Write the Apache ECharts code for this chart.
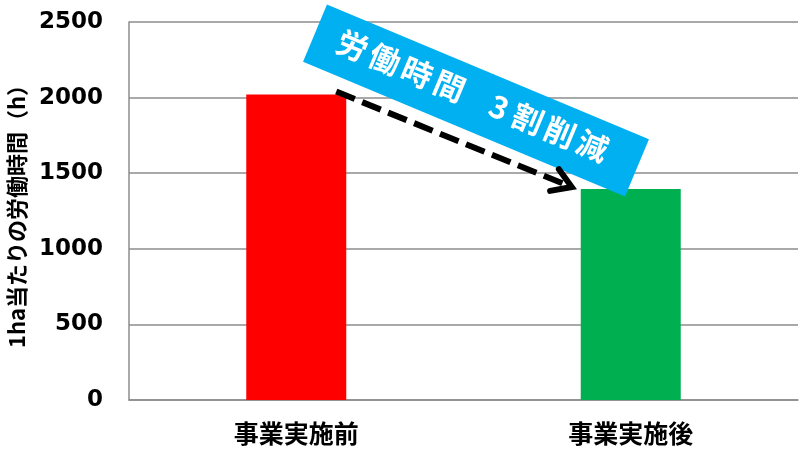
<!DOCTYPE html>
<html><head><meta charset="utf-8">
<script src="https://cdn.jsdelivr.net/npm/echarts@6/dist/echarts.min.js"></script>
<style>html,body{margin:0;padding:0;background:#fff}#c{width:803px;height:461px}</style>
</head><body><div id="c"></div>
<script>
const categories = ['事業実施前', '事業実施後'];
const hours = [2020, 1395];
const barColors = ['#FF0000', '#00B050'];
const yMin = 0, yMax = 2500, yInterval = 500;
const yTitle = '1ha当たりの労働時間（h）';
const calloutText = '労働時間　3割削減';

const chart = echarts.init(document.getElementById('c'), null, {renderer: 'canvas'});
const gray = '#8c8c8c';
chart.setOption({
  animation: false,
  backgroundColor: '#fff',
  grid: {left: 129, right: 5, top: 22, bottom: 61, containLabel: false, outerBoundsMode: 'none'},
  xAxis: {
    type: 'category', data: categories,
    axisLine: {show: true, lineStyle: {color: gray, width: 1.5}},
    axisTick: {show: false},
    axisLabel: {margin: 21, color: '#000', fontSize: 25, fontWeight: 'bold', fontFamily: '"Noto Sans CJK JP"'}
  },
  yAxis: {
    type: 'value', min: yMin, max: yMax, interval: yInterval,
    name: yTitle, nameLocation: 'middle', nameGap: 89,
    nameTextStyle: {color: '#000', fontSize: 22, fontWeight: 'bold', fontFamily: '"Noto Sans CJK JP"'},
    axisLine: {show: true, lineStyle: {color: gray, width: 1.5}},
    axisTick: {show: false},
    splitLine: {show: true, lineStyle: {color: gray, width: 1.5}},
    axisLabel: {margin: 26, color: '#000', fontSize: 23, fontWeight: 'bold', fontFamily: '"DejaVu Sans"',
      formatter: v => String(v)}
  },
  series: [{
    type: 'bar', barWidth: 100,
    data: hours.map((v, i) => ({value: v, itemStyle: {color: barColors[i]}}))
  }]
});

// Annotation: rotated callout box and dashed arrow
const p0 = chart.convertToPixel({seriesIndex: 0}, [0, hours[0]]);
const p1 = chart.convertToPixel({seriesIndex: 0}, [1, hours[1]]);
const start = [p0[0] + 40, p0[1] - 3];
const tip = [p1[0] - 59, p1[1] - 2];
const ang = Math.atan2(tip[1] - start[1], tip[0] - start[0]);
const back = ang + Math.PI;
const armLen = 22, armAng = 32 * Math.PI / 180;
const arm1 = [tip[0] + armLen * Math.cos(back + armAng), tip[1] + armLen * Math.sin(back + armAng)];
const arm2 = [tip[0] + armLen * Math.cos(back - armAng), tip[1] + armLen * Math.sin(back - armAng)];

const chars = Array.from(calloutText).filter(c => c !== '　' && c !== ' ');
const charPos = [-135, -100, -65, -30, 24, 55, 90, 125];
const boxW = 349, boxH = 62;
const textEls = chars.map((c, i) => ({
  type: 'text', x: charPos[i], y: -3, z: 101,
  style: {text: c, fill: '#fff', fontSize: 31, fontWeight: 'bold', fontFamily: '"Noto Sans CJK JP"', align: 'center', verticalAlign: 'middle'}
}));

chart.setOption({
  graphic: [
    {
      type: 'group', x: 476, y: 100.5, rotation: -22.7 * Math.PI / 180, z: 100,
      children: [
        {type: 'rect', shape: {x: -boxW / 2, y: -boxH / 2, width: boxW, height: boxH}, style: {fill: '#00B0F0'}, z: 100}
      ].concat(textEls)
    },
    {
      type: 'polyline', z: 110,
      shape: {points: [start, tip]},
      style: {stroke: '#000', lineWidth: 6, lineDash: [20, 8], lineCap: 'butt', fill: null}
    },
    {
      type: 'polyline', z: 111,
      shape: {points: [arm1, tip, arm2]},
      style: {stroke: '#000', lineWidth: 6, lineCap: 'round', lineJoin: 'miter', fill: null}
    }
  ]
});
</script>
</body></html>
